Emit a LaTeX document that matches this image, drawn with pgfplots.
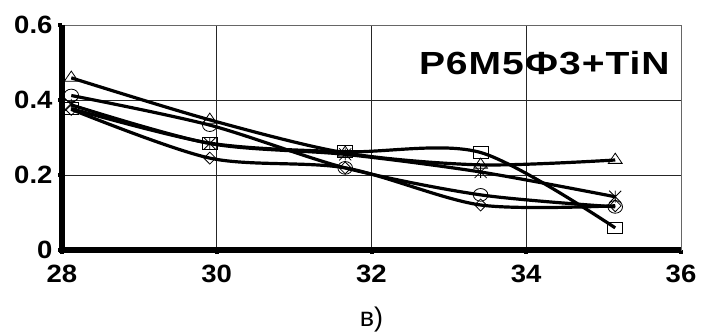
\documentclass[border=0pt]{standalone}
\usepackage{fontspec}
\setmainfont{Liberation Sans}
\usepackage{pgfplots}
\pgfplotsset{compat=1.18}
\pgfdeclareplotmark{xstar}{%
  \pgfpathmoveto{\pgfqpoint{-\pgfplotmarksize}{-\pgfplotmarksize}}%
  \pgfpathlineto{\pgfqpoint{\pgfplotmarksize}{\pgfplotmarksize}}%
  \pgfpathmoveto{\pgfqpoint{-\pgfplotmarksize}{\pgfplotmarksize}}%
  \pgfpathlineto{\pgfqpoint{\pgfplotmarksize}{-\pgfplotmarksize}}%
  \pgfpathmoveto{\pgfqpoint{0pt}{-\pgfplotmarksize}}%
  \pgfpathlineto{\pgfqpoint{0pt}{\pgfplotmarksize}}%
  \pgfusepathqstroke}
\begin{document}
\begin{tikzpicture}
\useasboundingbox (0,0) rectangle (706pt,334pt);
\begin{axis}[
  at={(62pt,84pt)}, anchor=south west,
  scale only axis, width=619pt, height=225pt,
  xmin=28, xmax=36, ymin=0, ymax=0.6,
  xtick={28,30,32,34,36}, ytick={0,0.2,0.4,0.6},
  grid=major, major grid style={black!85, line width=0.8pt},
  axis line style={black!60, line width=0.8pt},
  tick align=outside, xtick pos=bottom, ytick pos=left,
  major tick length=4pt,
  tick style={black, line width=4pt},
  tick label style={font=\fontsize{25}{25}\selectfont\bfseries\addfontfeature{FakeStretch=1.1}},
  /pgf/number format/assume math mode=true,
  xticklabel style={yshift=-8pt},
  yticklabel style={xshift=-2pt},
  clip=false,
]
\draw[line width=5.5pt, black] (rel axis cs:0,1) -- (rel axis cs:0,0) -- (rel axis cs:1,0);
% square
\addplot[black, line width=3.2pt, smooth, tension=0.5, mark=square, mark size=7.5pt,
  mark options={solid, fill=white, draw=black, line width=0.8pt, yscale=0.78}]
  coordinates {(28.12,0.377) (29.91,0.285) (31.66,0.262) (33.41,0.260) (35.15,0.059)};
% diamond
\addplot[black, line width=3.2pt, smooth, tension=0.5, mark=diamond, mark size=6pt,
  mark options={solid, fill=white, draw=black, line width=0.8pt, xscale=1.3}]
  coordinates {(28.12,0.375) (29.91,0.245) (31.66,0.219) (33.41,0.120) (35.15,0.118)};
% triangle
\addplot[black, line width=3.2pt, smooth, tension=0.5, mark=triangle, mark size=8pt,
  mark options={solid, fill=white, draw=black, line width=0.8pt, yscale=0.85}]
  coordinates {(28.12,0.459) (29.91,0.347) (31.66,0.259) (33.41,0.227) (35.15,0.240)};
% circle
\addplot[black, line width=3.2pt, smooth, tension=0.5, mark=o, mark size=7.3pt,
  mark options={solid, fill=white, draw=black, line width=0.8pt, yscale=0.87}]
  coordinates {(28.12,0.412) (29.91,0.333) (31.66,0.219) (33.41,0.147) (35.15,0.115)};
% asterisk
\addplot[black, line width=3.2pt, smooth, tension=0.5, mark=xstar, mark size=6pt,
  mark options={solid, draw=black, line width=0.8pt}]
  coordinates {(28.12,0.387) (29.91,0.284) (31.66,0.255) (33.41,0.208) (35.15,0.142)};
\node[anchor=east, inner sep=0pt, font=\fontsize{32}{32}\selectfont\bfseries]
  at (rel axis cs:0.982,0.829) {\addfontfeature{FakeStretch=1.22,LetterSpace=3}Р6М5Ф3+TiN};
\node[inner sep=0pt, font=\fontsize{27}{27}\selectfont]
  at (rel axis cs:0.5,-0.307) {в)};
\end{axis}
\end{tikzpicture}
\end{document}
